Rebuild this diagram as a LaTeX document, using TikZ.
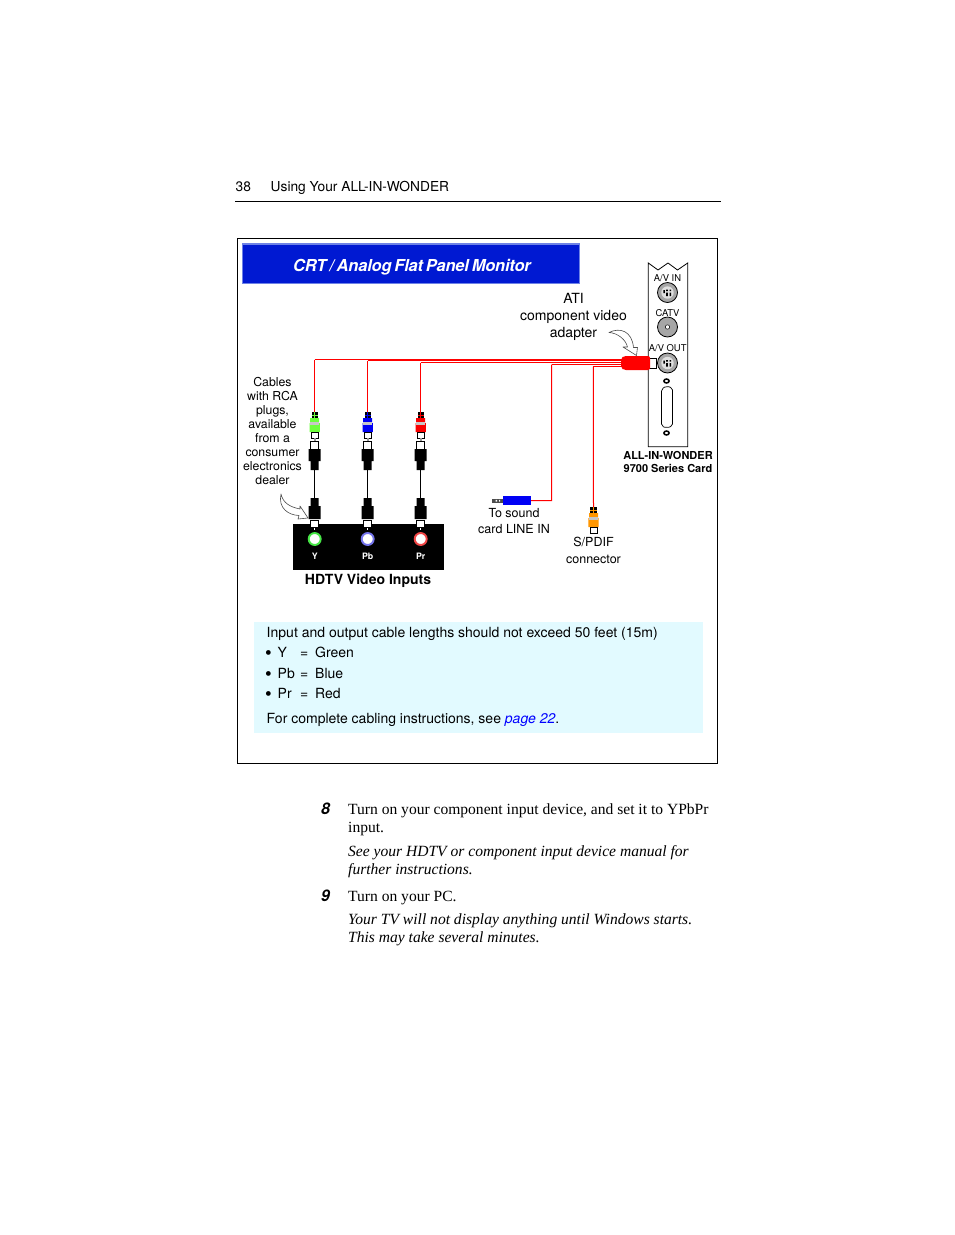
\documentclass[tikz,border=0pt]{standalone}
\usepackage{fontspec}
\setmainfont{TeX Gyre Heros}
\newfontfamily\bookfont{Liberation Serif}
\definecolor{bannerblue}{RGB}{0,25,210}
\definecolor{bannerrim}{RGB}{110,130,230}
\definecolor{notecyan}{RGB}{226,250,255}
\definecolor{plgreen}{RGB}{110,255,60}
\definecolor{plblue}{RGB}{0,0,245}
\definecolor{plred}{RGB}{250,0,0}
\definecolor{plorange}{RGB}{255,150,0}
\definecolor{ringgreen}{RGB}{70,230,70}
\definecolor{ringblue}{RGB}{115,115,235}
\definecolor{ringred}{RGB}{240,70,70}
\tikzset{
  txt/.style={inner sep=0pt,anchor=base west,font=\fontsize{#1}{#1}\selectfont},
  txt/.default=14,
  mid/.style={inner sep=0pt,align=center,font=\fontsize{#1}{#1}\selectfont},
  book/.style={inner sep=0pt,anchor=base west,font=\bookfont\fontsize{15.56}{15.56}\selectfont},
  bookit/.style={book,font=\bookfont\itshape\fontsize{15.56}{15.56}\selectfont},
  wire/.style={draw=red,line width=1pt},
  blackwire/.style={draw=black,line width=1.2pt},
  hollow/.style={draw=black!70,fill=white,line width=.6pt,line join=round},
  port/.style={circle,draw=black,fill=black!35,line width=.8pt,minimum size=20pt,inner sep=0pt},
  plughead/.pic={
    \fill[black] (-3.2,0) rectangle (3.2,6.5);
    \draw[#1,line width=.7pt] (-3.2,3) -- (3.2,3) (0,0) -- (0,6.5);
    \fill[#1] (-4.5,6) rectangle (4.5,11) (-5.2,11) rectangle (5.2,20);
    \fill[black!22] (-4.6,10) rectangle (4.6,13);
    \draw[black,fill=white,line width=.7pt] (-3.6,20.4) rectangle (3.6,26);
    \coordinate (-head) at (0,0);
  },
  plugtail/.pic={
    \fill[black!40] (-1,0) rectangle (1,3);
    \draw[black,fill=white,line width=.7pt] (-4,3) rectangle (4,11);
    \fill[black] (-6,11) rectangle (6,23) (-4,23) rectangle (4,32);
    \coordinate (-tail) at (0,32);
  },
  plugbottom/.pic={
    \fill[black] (-4,0) rectangle (4,8) (-6,8) rectangle (6,21);
    \draw[black,fill=white,line width=.7pt] (-4,22) rectangle (4,29);
    \coordinate (-tail) at (0,0);
  },
}
\begin{document}
\begin{tikzpicture}[x=1pt,y=-1pt]
\useasboundingbox (0,0) rectangle (954,1235);
\fill[white] (0,0) rectangle (954,1235);

\node[txt=13.75] (pagenum) at (235.5,191) {38};
\node[txt=13.75] (running) at (270.5,191) {Using Your ALL-IN-WONDER};
\coordinate (ruleleft) at (235,201.5);
\coordinate (ruleright) at (721,201.5);
\draw[line width=.8pt] (ruleleft) -- (ruleright);

\draw[line width=.8pt] (237.5,238.5) rectangle (717.5,763.5);
\node[draw=bannerrim,fill=bannerblue,line width=1.2pt,minimum width=337pt,minimum height=39.5pt,inner sep=0pt] (banner) at (411,263.7) {};
\node[inner sep=0pt,text=white,font=\fontsize{16.5}{16.5}\selectfont\bfseries\itshape\addfontfeature{LetterSpace=-1.2}] (bannertext) at (412,267) {\spaceskip=.17em CRT / Analog Flat Panel Monitor};

% card
\draw[line width=.8pt,fill=white] (648.3,446.7) -- (648.3,263) -- (658,270) -- (668,263) -- (677.5,270) -- (687.7,263) -- (687.7,446.7) -- cycle;
\node[mid=9.4] (avinlabel) at (667.5,278) {A/V IN};
\node[mid=9.4] (catvlabel) at (667.5,313) {CATV};
\node[mid=9.4] (avoutlabel) at (667.7,348) {A/V OUT};
\foreach \name/\py in {avin/292.5,avout/363}{
  \node[port] (\name) at (667.5,\py) {};
  \fill[black!12] (667.5,\py) circle (6.2pt);
  \fill[black] (663.4,\py-2.5) rectangle (664.8,\py+.5) (666.2,\py-3) rectangle (667.8,\py-1.4) (666.2,\py) rectangle (667.8,\py+3.5) (669.5,\py-3) rectangle (671.1,\py-1.4) (669.5,\py) rectangle (671.1,\py+3.5);
}
\node[port] (catv) at (667.5,327) {};
\draw[black,fill=white,line width=.5pt] (catv) circle (2.2pt);
\draw[black,fill=white,line width=1.5pt] (666.5,381) ellipse (2.6pt and 2pt) (666.5,433) ellipse (2.6pt and 2pt);
\draw[black,fill=white,line width=.7pt,rounded corners=2pt] (661.5,389) -- (666.5,386) -- (672.5,388) -- (672.5,426) -- (666.5,428) -- (661.5,426) -- cycle;
\node[mid=11,font=\fontsize{11}{13}\selectfont\bfseries] (cardname) at (668,462) {ALL-IN-WONDER\\9700 Series Card};

% adapter
\node[draw=black,fill=white,line width=.7pt,minimum width=6.5pt,minimum height=10pt,inner sep=0pt] (adapterstub) at (652.8,363) {};
\fill[red,rounded corners=2pt] (621,358) -- (624,356) -- (650,356) -- (650,370) -- (624,370) -- (621,368) -- cycle;

\coordinate (ybend) at (314.7,359.5);
\coordinate (pbbend) at (367.7,360.8);
\coordinate (prbend) at (420.7,362.5);
\coordinate (sndbend) at (551.7,364.7);
\coordinate (spdbend) at (593.3,366.7);
\coordinate (ybendr) at (625,359.5);
\coordinate (pbbendr) at (625,360.8);
\coordinate (prbendr) at (625,362.5);
\coordinate (sndbendr) at (625,364.7);
\coordinate (spdbendr) at (625,366.7);

% hdtv box
\node[fill=black,minimum width=151pt,minimum height=46pt,inner sep=0pt] (hdtv) at (368.5,547) {};
\foreach \name/\px/\plugcol/\ringcol/\lab in {y/314.7/plgreen/ringgreen/Y,pb/367.7/plblue/ringblue/Pb,pr/420.7/plred/ringred/Pr}{
  \pic (\name up) at (\px,412) {plughead=\plugcol};
  \pic (\name mid) at (\px,438) {plugtail};
  \pic (\name dn) at (\px,498) {plugbottom};
  \draw[blackwire] (\name mid-tail) -- (\name dn-tail);
  \draw[wire] (\name bend) -- (\name up-head);
  \draw[wire] (\name bend) -- (\name bendr);
  \fill[white] (\px-.7,527.5) rectangle (\px+.7,529.5);
  \node[circle,draw=\ringcol,fill=white,line width=1.9pt,minimum size=12pt,inner sep=0pt] (\name jack) at (\px,539) {};
  \node[inner sep=0pt,text=white,font=\fontsize{8.8}{8.8}\selectfont\bfseries] (\name label) at (\px,556.5) {\lab};
}
\node[inner sep=0pt,font=\fontsize{14}{14}\selectfont\bfseries] (hdtvlabel) at (368,580.5) {HDTV Video Inputs};

% sound and spdif ends
\coordinate (sndend) at (551.7,500.7);
\node[fill=plblue,minimum width=28pt,minimum height=9.6pt,inner sep=0pt] (sndplug) at (517,500.5) {};
\draw[wire] (sndbend) -- (sndbendr);
\draw[wire] (sndbend) -- (sndend) -- (sndplug);
\fill[black!70] (492,499) rectangle (503,502.5);
\fill[white] (495.5,499.8) rectangle (497,501.7) (499,499.8) rectangle (500,501.7);
\pic (spdup) at (593.5,507) {plughead=plorange};
\draw[wire] (spdbend) -- (spdbendr);
\draw[wire] (spdbend) -- (spdup-head);

% curved arrows
\draw[hollow] (609,332.5) .. controls (620,327) and (632,331) .. (633.5,347.5) -- (637.5,347.5) -- (636.5,355.5) -- (623,347) -- (627.5,347) .. controls (626,340) and (618,333) .. cycle;
\draw[hollow] (281,494) .. controls (283,503) and (290,507) .. (300,509) -- (300,506) -- (308,518) -- (298,519) -- (299,515.5) .. controls (288,515) and (278,508) .. cycle;

\node[mid=14,font=\fontsize{14}{17}\selectfont] (adapterlabel) at (573.5,317) {ATI\\component video\\adapter};
\node[mid=12,font=\fontsize{12.3}{14}\selectfont] (cablelabel) at (272.5,431) {Cables\\with RCA\\plugs,\\available\\from a\\consumer\\electronics\\dealer};
\node[mid=12.5,font=\fontsize{12.5}{16}\selectfont] (sndlabel) at (514,521) {To sound\\card LINE IN};
\node[mid=12.5,font=\fontsize{12.5}{17}\selectfont] (spdlabel) at (593.5,550) {S/PDIF\\connector};

% note
\node[fill=notecyan,minimum width=449pt,minimum height=111pt,inner sep=0pt] (note) at (478.5,677.5) {};
\node[txt] (notea) at (266.5,637) {Input and output cable lengths should not exceed 50 feet (15m)};
\foreach \name/\py/\keyname/\val in {ny/657/Y/Green,npb/678/Pb/Blue,npr/698/Pr/Red}{
  \node[txt=19] (\name bul) at (265,\py+2.8) {•};
  \node[txt] (\name key) at (277.5,\py) {\keyname};
  \node[txt] (\name eq) at (300,\py) {=};
  \node[txt] (\name val) at (315,\py) {\val};
}
\node[txt] (noteb) at (266.5,723) {For complete cabling instructions, see \textcolor{blue}{\itshape page 22}.};

% steps
\node[txt=16,font=\fontsize{16}{16}\selectfont\bfseries\itshape] (eight) at (321,814) {8};
\node[book] (stepa) at (348,814) {Turn on your component input device, and set it to YPbPr};
\node[book] (stepb) at (348,832) {input.};
\node[bookit] (stepc) at (348,856) {See your HDTV or component input device manual for};
\node[bookit] (stepd) at (348,874) {further instructions.};
\node[txt=16,font=\fontsize{16}{16}\selectfont\bfseries\itshape] (nine) at (321,901) {9};
\node[book] (stepe) at (348,901) {Turn on your PC.};
\node[bookit] (stepf) at (348,924) {Your TV will not display anything until Windows starts.};
\node[bookit] (stepg) at (348,942.5) {This may take several minutes.};
\end{tikzpicture}
\end{document}
